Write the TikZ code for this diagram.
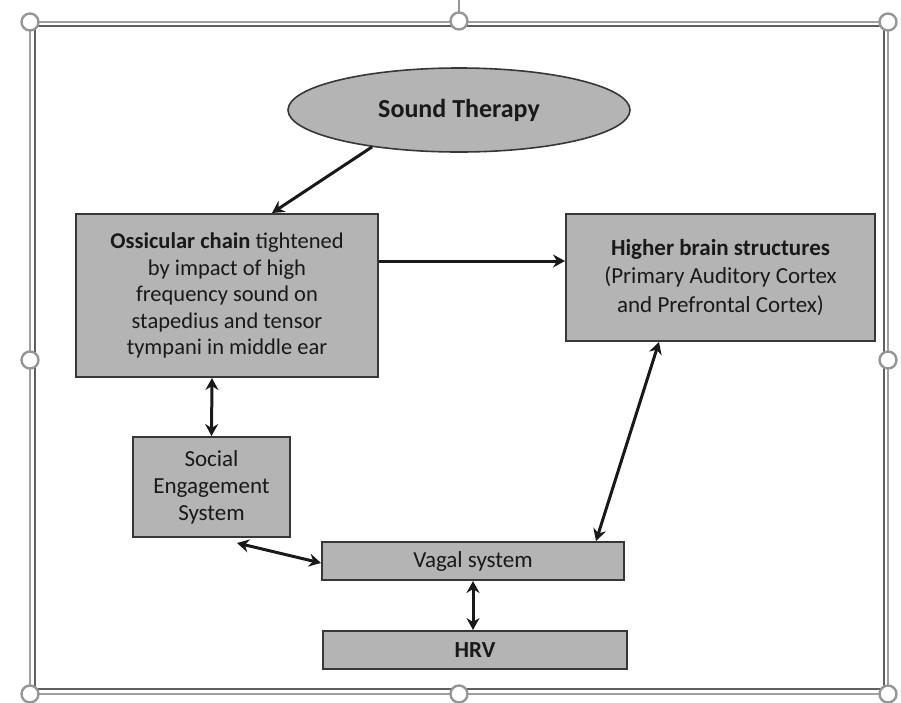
\documentclass[tikz,border=0pt]{standalone}
\usepackage{fontspec}
\setmainfont{Carlito}
\usetikzlibrary{shapes.geometric,arrows.meta}
\definecolor{boxgray}{RGB}{180,180,180}
\definecolor{edgegray}{RGB}{55,55,55}
\definecolor{handlegray}{RGB}{150,150,150}
\begin{document}
\begin{tikzpicture}[x=1pt,y=-1pt,
  box/.style={draw=edgegray,line width=2pt,fill=boxgray,rectangle,inner sep=0pt,align=center,font=\fontsize{23}{27}\selectfont,text=black!90},
  conn/.style={line width=3pt,black!90,{Stealth[length=12pt,width=13pt,inset=4pt]}-{Stealth[length=12pt,width=13pt,inset=4pt]}},
  oneway/.style={line width=3pt,black!90,-{Stealth[length=12pt,width=13pt,inset=4pt]}},
  handle/.style={circle,draw=handlegray,fill=white,line width=2.4pt,minimum size=17pt,inner sep=0pt}]
\useasboundingbox (0,0) rectangle (901,702);
% frame
\draw[handlegray,line width=1.5pt] (459,0) -- (459,12);
\draw[handlegray!90,line width=2pt] (30,22) rectangle (888,694);
\draw[edgegray!80,line width=1.5pt] (35,26) rectangle (884,689);
\foreach \p/\n in {{30,22}/h1,{459,21}/h2,{888,22}/h3,{30,360}/h4,{888,360}/h5,{30,694}/h6,{459,694}/h7,{888,694}/h8}
  \node[handle] (\n) at (\p) {};
% nodes
\node[ellipse,draw=edgegray,line width=1.6pt,fill=boxgray,minimum width=342pt,minimum height=84pt,inner sep=0pt,font=\fontsize{26}{29}\selectfont\bfseries,text=black!90] (snd) at (459,110) {Sound Therapy};
\node[box,minimum width=302pt,minimum height=163pt,font=\fontsize{22.5}{26.5}\selectfont] (oss) at (227,295.5)
  {\textbf{Ossicular chain} tightened\\by impact of high\\frequency sound on\\stapedius and tensor\\tympani in middle ear};
\node[box,minimum width=309pt,minimum height=127pt,font=\fontsize{23}{28.5}\selectfont] (hbs) at (720.5,277.5)
  {\textbf{Higher brain structures}\\(Primary Auditory Cortex\\and Prefrontal Cortex)};
\node[box,minimum width=157pt,minimum height=100pt] (soc) at (211.5,487)
  {Social\\Engagement\\System};
\node[box,minimum width=302pt,minimum height=38pt] (vag) at (473,561) {Vagal system};
\node[box,minimum width=304pt,minimum height=38pt,font=\fontsize{23}{27}\selectfont\bfseries] (hrv) at (475,650) {HRV};
% connectors
\draw[oneway] (snd.203) -- ([xshift=45pt]oss.north);
\draw[oneway] ([yshift=34.5pt]oss.east) -- ([yshift=16.5pt]hbs.west);
\draw[conn] ([xshift=-15pt]oss.south) -- (soc.north);
\draw[conn] ([xshift=25.5pt,yshift=-5pt]soc.south) -- ([yshift=-2pt]vag.west);
\draw[conn] ([xshift=-61.5pt]hbs.south) -- ([xshift=123pt]vag.north);
\draw[conn] (vag.south) -- ([xshift=-2pt]hrv.north);
\end{tikzpicture}
\end{document}
